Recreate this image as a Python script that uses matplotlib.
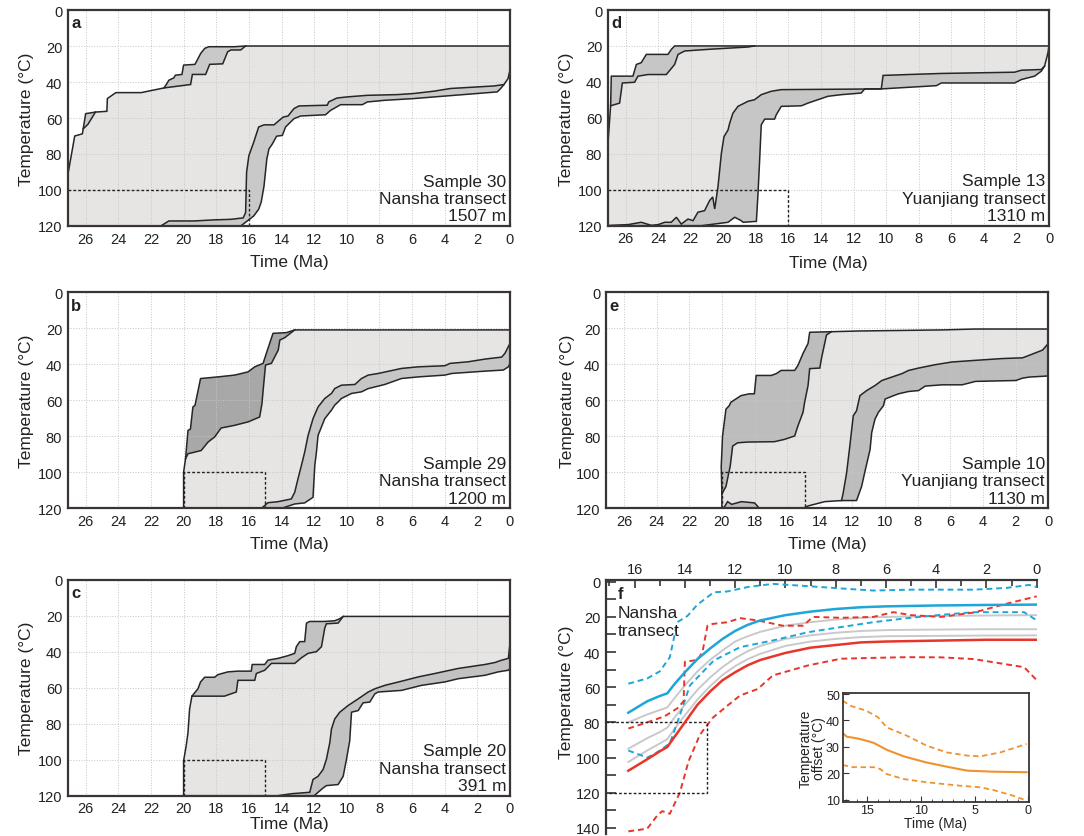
import matplotlib
matplotlib.use("Agg")
import matplotlib.pyplot as plt
from matplotlib.patches import Polygon
from matplotlib.ticker import MultipleLocator

plt.rcParams['font.family'] = ['Liberation Sans', 'DejaVu Sans']

# ---------------- data: thermal-history envelopes (time Ma, temperature C) ----------------
a_upper = [(27.1,120),(27.1,92),(26.67,70),(26.2,68.8),(26.15,66),(26.0,57.6),(25.4,56.7),(24.7,56.3),
           (24.67,49.2),(24.15,45.9),(22.6,45.9),(21.2,43.3),(21.06,41.4),(20.9,39),(20.6,37.7),(20.5,36.2),
           (20.1,35.8),(20.0,30.6),(19.3,30.2),(18.95,24.1),(18.7,21.3),(18.45,20.4),(16.9,20.4),(16.2,20),(0,20)]
a_band1 = [(26.15,66),(25.86,63.5),(25.4,56.7)]
a_band2 = [(21.2,43.3),(19.57,41.4),(19.46,35.8),(18.65,35.8),(18.4,30.2),(17.6,29.9),(17.3,23.2),(17.1,22.2),
           (16.5,22.2),(16.2,20)]
a_lower = [(27.1,120),(21.4,120),(16.5,120),(15.7,114.4),(15.4,110.7),(15.24,106.6),(15.07,97.7),(14.9,82.8),
           (14.77,77.2),(14.56,74.4),(14.3,70.1),(13.95,69.7),(13.75,65),(13.24,60.4),(12.83,58.9),(11.3,58.2),
           (11.0,55.8),(10.38,52.6),(9.05,52.6),(8.74,51.1),(7.72,50.2),(5.88,49.2),(4.66,48.3),(0.78,45.5),
           (0.57,43.6),(0.37,41.4),(0.12,38.1),(0,33.4),(0,20)]
a_band3 = [(21.4,120),(20.9,117.2),(19.36,117.2),(18.14,116.6),(17.1,116.3),(16.35,115.5),(16.2,112.6),
           (16.14,90.2),(16.0,80.9),(15.7,73.4),(15.4,65),(15.07,63.8),(14.46,63.8),(13.9,59.5),(13.6,58.9),
           (13.24,54.8),(12.93,53.3),(11.2,52.9),(11.1,51),(10.6,48.9),(10.0,48.3),(8.74,47.4),(6.9,47),
           (5.9,46.4),(4.66,45.1),(3.64,43.6),(0.98,42.2),(0.37,41.4)]
a_box = [(27.1,100),(16,100),(16,120)]
a_label = "Sample 30\nNansha transect\n1507 m"

b_upper = [(20,120),(20,100),(19.88,92.5),(19.73,76.7),(19.58,76),(19.43,63.7),(19.3,62.8),(18.96,47.9),
           (17.9,47),(16.87,46),(16.05,44.2),(15.64,41.4),(15.13,39.5),(14.83,31.2),(14.52,22.8),(13.7,22.4),
           (13.19,20.9),(0,20.9)]
b_band1 = [(19.88,92.5),(19.73,89.7),(18.92,87.9),(18.5,83.2),(18.1,80.4),(17.7,75.4),(16.87,73.9),(16.05,72),
           (15.34,69.3),(15.2,62),(15.1,52),(14.98,40.4),(14.62,39.5),(14.2,32.1),(14.1,26.5),(13.8,25.2),
           (13.19,20.9)]
b_lower = [(20,120),(15.23,120),(14.0,120),(13.19,117.6),(12.58,117),(12.07,113.9),(11.96,96.2),(11.86,88.8),
           (11.76,79.5),(11.35,70.2),(10.94,65.5),(10.74,62.7),(10.53,60.9),(10.33,59),(9.71,56.2),(9.1,55.3),
           (8.69,53.5),(7.67,51.2),(6.65,47.9),(5.62,47),(3.99,46),(3.58,45.1),(1.53,43.8),(0.41,43.2),
           (0.1,41.4),(0,39.5),(0,28.4),(0,20.9)]
b_band2 = [(15.23,120),(14.83,116.9),(14.2,116.3),(13.4,114.8),(13.19,111.1),(12.99,103.6),(12.78,96.2),
           (12.58,88.8),(12.37,79.5),(12.07,70.2),(11.76,63.7),(11.35,59),(10.94,56.2),(10.74,53.5),(10.33,51.6),
           (9.5,51.2),(9.1,47.9),(8.69,46),(8.08,45.1),(6.65,42.3),(5.62,41.4),(3.99,40.8),(3.68,39.5),
           (2.56,38.6),(1.53,37.1),(0.51,36),(0.31,33.9),(0,28.4)]
b_box = [(20,120),(20,100),(15,100),(15,120)]
b_label = "Sample 29\nNansha transect\n1200 m"

c_upper = [(20,120),(20,100.7),(19.84,92.3),(19.73,84.9),(19.63,71.8),(19.49,64.7),(19.12,60.6),(18.96,56.8),
           (18.71,54.2),(18.1,54.2),(17.89,52.7),(17.28,51.2),(16.67,50.8),(15.85,50.8),(15.8,47.1),(15.03,47.1),
           (14.83,44.7),(14.21,43.7),(13.6,42.2),(13.19,40.9),(13.09,37.2),(12.88,34.4),(12.58,34.4),(12.47,24.1),
           (12.27,23.2),(11.35,23.2),(10.74,22.8),(10.43,21.7),(10.22,20.4),(0,20.4)]
c_band1 = [(19.49,64.7),(17.5,64.7),(16.77,62.4),(16.67,55.9),(15.64,55.9),(15.54,52.1),(15.03,50.3),
           (14.62,46.5),(13.19,46.5),(12.78,43.4),(12.37,40.9),(11.86,40),(11.55,37.2),(11.35,26.9),
           (11.25,24.5),(10.53,24.1),(10.22,20.4)]
c_lower = [(20,120),(14.21,120),(12.0,120),(11.45,115.7),(11.25,114.4),(10.53,113.8),(10.22,109.2),(10.02,99.8),
           (9.82,89.5),(9.71,73.6),(9.3,72.7),(9.0,68.4),(8.59,68),(8.28,63.4),(8.08,62.4),(6.65,61.5),
           (5.42,58.7),(3.99,56.8),(3.17,55),(1.53,53.1),(0.72,51.2),(0.1,50.3),(0,49.3),(0,35.3),(0,20.4)]
c_band2 = [(14.21,120),(13.39,118.9),(12.27,118.1),(12.07,111),(11.76,109.2),(11.45,105.4),(11.25,99.8),
           (11.04,90.5),(10.94,83),(10.74,77.4),(10.43,73.6),(9.92,69.9),(9.3,66.2),(8.69,62.4),(8.28,60.6),
           (7.67,58.7),(6.65,56.4),(5.62,54),(4.6,52.1),(3.17,49.3),(1.53,47.1),(0.92,46),(0.51,44.7),
           (0.1,43.7),(0,35.3)]
c_box = [(20,120),(20,100),(15,100),(15,120)]
c_label = "Sample 20\nNansha transect\n391 m"

d_upper = [(27.1,120),(27.1,76),(26.92,53.3),(26.88,36.8),(25.55,36.8),(25.34,30.3),(25.04,29.3),(24.73,24.7),
           (23.4,24.7),(23.19,21.9),(22.99,20),(18.08,20),(0,20)]
d_band1 = [(26.92,53.3),(26.37,51.8),(26.2,40.6),(25.45,40.2),(25.24,36.8),(24.63,35.9),(23.5,35.9),
           (22.99,30.3),(22.78,24.7),(22.37,22.8),(20.94,21.9),(18.49,20.6),(18.08,20)]
d_lower = [(27.1,120),(21.35,120),(19.71,118.1),(19.3,115.3),(18.9,117.2),(18.79,118.1),(17.97,117.6),
           (17.87,102.2),(17.77,83.6),(17.67,63.9),(17.46,60.7),(16.85,60.7),(16.75,58.3),(16.44,53.6),
           (15.21,53.3),(14.8,51.8),(14.19,49.9),(13.57,48),(12.75,47.1),(11.53,46.2),(11.32,43.9),(10.3,43.9),
           (6.92,42.1),(6.61,40.6),(2.11,40.6),(1.7,38.7),(0.88,36.8),(0.47,34),(0.27,31.2),(0.06,23.7),(0,20)]
d_band2 = [(27.1,120),(26.88,119.8),(25.85,119.4),(25.04,118.1),(24.42,119.8),(24.0,119.4),(23.6,118.1),
           (23.2,118.1),(22.88,115.3),(22.58,119.1),(22.17,116.3),(21.86,117.2),(21.56,112.5),(21.15,111.6),
           (20.84,106),(20.65,104),(20.53,110.7),(20.33,98.5),(20.12,79.8),(19.96,70.5),(19.71,66.7),
           (19.61,63),(19.41,57.4),(19.1,53.6),(18.49,50.8),(18.08,49.9),(17.67,47.1),(17.05,45.2),
           (16.44,44.3),(10.3,43.9),(10.19,36.4),(8.66,35.9),(6.61,35.3),(2.11,34.6),(1.7,33.5),(0.47,33.1),
           (0.27,31.2)]
d_box = [(27.1,100),(16,100),(16,120)]
d_label = "Sample 13\nYuanjiang transect\n1310 m"

e_upper = [(20,120),(20,112),(20.04,96.8),(19.96,79.8),(19.75,64.9),(19.55,63),(19.45,61.1),(18.83,57.4),
           (18.32,56.4),(18.01,56.4),(17.9,46.2),(16.98,46.2),(16.67,45.2),(16.37,43.4),(15.54,43.4),
           (15.34,40.6),(15.03,34),(14.72,28.4),(14.62,22.2),(13.29,21.9),(11.64,21.5),(6.51,20.9),(4.46,20.4),
           (0,20.4)]
e_band1 = [(20,112),(19.75,107.9),(19.49,96.6),(19.34,85.4),(19.03,83.6),(18.42,83.2),(16.78,83),(16.16,81.7),
           (15.54,79.8),(15.34,74.2),(15.03,66.7),(14.93,61.1),(14.72,51.8),(14.62,42.4),(14.0,42.1),
           (13.9,36.8),(13.59,23.7),(13.29,21.9)]
e_lower = [(20,120),(19.9,120),(17.7,120),(15.03,120),(14.72,118.7),(13.7,116.3),(12.67,115.7),(11.75,115.7),
           (11.44,107.9),(11.23,99.4),(10.92,87.3),(10.82,77.9),(10.62,70.5),(10.41,66.7),(10.1,63),(10.0,59.3),
           (9.59,57.8),(9.18,56.4),(8.56,55.1),(7.95,54.6),(7.54,52.1),(6.51,51.4),(5.28,51.4),(4.46,49.5),
           (1.99,49),(1.58,47.7),(1.17,47.1),(0.04,46.5),(0,40.6),(0,28.4),(0,20.4)]
e_band0 = [(19.9,120),(19.65,116.3),(19.4,117.8),(18.8,116.3),(18.0,117),(17.7,120)]
e_band2 = [(12.67,115.7),(12.57,111.6),(12.36,100.4),(12.16,85.4),(11.95,68.6),(11.75,65.8),(11.54,57.4),
           (11.13,54.6),(10.62,51.8),(10.2,49),(9.59,47.1),(8.97,45.2),(8.56,43.4),(7.95,42.1),(6.92,40.2),
           (5.89,38.7),(4.46,37.8),(2.81,36.8),(1.58,36.4),(1.17,35),(0.35,32.1),(0,28.4)]
e_box = [(20,120),(20,100),(14.9,100),(14.9,120)]
e_label = "Sample 10\nYuanjiang transect\n1130 m"

xticks_hist = [26, 24, 22, 20, 18, 16, 14, 12, 10, 8, 6, 4, 2, 0]
yticks_hist = [0, 20, 40, 60, 80, 100, 120]

# ---------------- data: panel f (Nansha transect) ----------------
f_t = [16.25, 15.5, 15.0, 14.7, 14.4, 14.0, 13.5, 13.0, 12.5, 12.0, 11.5, 11.0, 10.0, 9.0, 8.0, 7.0, 6.0, 4.0, 2.0, 0.0]
f_blue = [74.5, 68, 65, 63.5, 58, 51.5, 44, 38, 32.5, 28, 24.5, 22, 19, 17, 15.5, 14.5, 14, 13.5, 13.2, 13]
f_grey1 = [80, 75.5, 73, 71.5, 66, 59, 51, 44.5, 39, 34, 31, 28.5, 25, 23, 21.5, 20.5, 20, 19.5, 19.2, 19]
f_grey2 = [95, 89, 85.5, 83, 77, 70, 61.5, 54.5, 48.5, 43.5, 39.5, 36.5, 32.5, 30.5, 29, 28, 27.5, 27.2, 27, 27]
f_grey3 = [102.5, 96, 92, 89.5, 83.5, 76, 67, 59.5, 53, 48, 44, 41, 36.5, 34, 32.5, 31.5, 31, 30.8, 30.6, 30.5]
f_red = [107.5, 101, 96.5, 94, 88, 80, 70, 62.5, 56, 51.5, 47.5, 44.5, 40.5, 37.5, 36, 34.5, 34, 33.5, 33, 33]

f_bdu_t = [16.25, 15.5, 15.0, 14.6, 14.3, 13.9, 13.5, 12.85, 12.3, 11.5, 10.5, 9.1, 7.8, 6.5, 5.0, 3.8, 2.5, 1.2, 0.3, 0.0]
f_bdu = [58, 55, 51, 43, 23, 19.5, 13, 6, 5.5, 3, 1.2, 2.5, 3.8, 5, 4.5, 4.5, 4.5, 3.5, 1.8, 3]
f_bdl_t = [16.25, 15.5, 15.2, 14.6, 14.2, 13.8, 12.85, 11.8, 10.5, 9.1, 7.8, 6.5, 5.15, 3.8, 2.5, 0.5, 0.0]
f_bdl = [96, 100, 98, 92, 76, 59, 44.8, 37.2, 33.4, 28.7, 25.8, 23, 20.7, 18.8, 17.3, 17.3, 22]
f_rdu_t = [16.25, 15.5, 14.8, 14.3, 14.05, 14.0, 13.5, 13.3, 13.1, 12.9, 12.3, 11.8, 11.1, 10.1, 9.3, 8.9,
           7.8, 6.5, 5.7, 5.0, 3.8, 2.5, 1.2, 0.0]
f_rdu = [83.5, 80, 76.5, 72, 68, 45.5, 44.5, 40, 25, 24, 23, 20.7, 22, 25, 25, 20, 20.5, 20, 17.3, 19, 20, 17.5, 12.5, 8.3]
f_rdl_t = [16.25, 15.5, 15.1, 14.9, 14.6, 14.4, 14.2, 13.85, 13.4, 12.9, 12.3, 11.8, 11.1, 10.5, 9.1, 7.8,
           6.5, 5.15, 3.8, 2.5, 0.5, 0.0]
f_rdl = [142, 140.5, 133, 130.5, 132, 126, 120, 102, 87, 77.5, 70.4, 64.7, 61, 53.3, 47.6, 43.8, 43.3, 42.9,
         43, 44, 48.6, 56]
f_box = [(17.15, 80), (13.1, 80), (13.1, 120), (17.15, 120)]
f_xticks = [16, 14, 12, 10, 8, 6, 4, 2, 0]
f_yticks = [0, 20, 40, 60, 80, 100, 120, 140]

# inset: temperature offset
ins_mid_t = [17.3, 16.9, 16.5, 15.7, 14.8, 14.4, 13.2, 11.6, 9.5, 7.6, 5.7, 3.3, 0.15]
ins_mid = [35.2, 33.8, 33.6, 33.0, 32.0, 31.5, 28.9, 26.4, 24.1, 22.5, 21.0, 20.6, 20.4]
ins_up_t = [17.3, 16.6, 15.1, 14.0, 13.2, 11.3, 9.5, 7.6, 5.7, 4.5, 2.6, 0.15]
ins_up = [47.5, 45.6, 43.7, 41.2, 37.4, 34.2, 30.5, 27.9, 26.7, 26.4, 27.9, 31.1]
ins_low_t = [17.3, 16.3, 14.4, 13.8, 13.2, 11.6, 9.5, 6.4, 4.5, 3.3, 1.4, 0.15]
ins_low = [23.1, 22.3, 22.3, 21.6, 19.7, 17.8, 16.6, 15.3, 14.7, 13.7, 11.5, 9.6]
ins_xticks = [15, 10, 5, 0]
ins_yticks = [10, 20, 30, 40, 50]

# ---------------- styles ----------------
LIGHT = '#e6e5e3'
LINE = '#262626'
SPINE = '#3a3434'
W, H = 1084, 837

fig = plt.figure(figsize=(W / 100, H / 100), dpi=100)


def add_ax(l, t, r, b, **kw):
    return fig.add_axes([l / W, 1 - b / H, (r - l) / W, (b - t) / H], **kw)


def xy(points):
    return [p[0] for p in points], [p[1] for p in points]


panels = [
    dict(rect=(67.7, 11, 510, 227), upper=a_upper, lower=a_lower, bands=[a_band1, a_band2, a_band3],
         colors=['#c9c9c9', '#c9c9c9', '#c9c9c9'], box=a_box, letter='a', label=a_label,
         xl=-0.13, yl=-0.077),
    dict(rect=(67.7, 293.3, 510, 509.3), upper=b_upper, lower=b_lower, bands=[b_band1, b_band2],
         colors=['#a8a8a8', '#c6c6c6'], box=b_box, letter='b', label=b_label, xl=-0.128, yl=-0.077),
    dict(rect=(67.7, 580.7, 510, 796.7), upper=c_upper, lower=c_lower, bands=[c_band1, c_band2],
         colors=['#c2c2c2', '#c2c2c2'], box=c_box, letter='c', label=c_label, xl=-0.094, yl=-0.077),
    dict(rect=(607.7, 11, 1049, 226.7), upper=d_upper, lower=d_lower, bands=[d_band1, d_band2],
         colors=['#c6c6c6', '#c6c6c6'], box=d_box, letter='d', label=d_label, xl=-0.136, yl=-0.077),
    dict(rect=(606, 293.3, 1048.3, 509.3), upper=e_upper, lower=e_lower, bands=[e_band0, e_band1, e_band2],
         colors=['#bdbdbd', '#bdbdbd', '#bdbdbd'], box=e_box, letter='e', label=e_label, xl=-0.128, yl=-0.069),
]

for p in panels:
    ax = add_ax(*p['rect'])
    ax.set_xlim(27.1, 0)
    ax.set_ylim(120, 0)
    upper, lower = p['upper'], p['lower']
    ax.add_patch(Polygon(upper + lower[::-1], closed=True, fc=LIGHT, ec='none', zorder=1))
    for inner, col in zip(p['bands'], p['colors']):
        host = upper if (inner[0] in upper and inner[-1] in upper) else lower
        i0, i1 = host.index(inner[0]), host.index(inner[-1])
        ax.add_patch(Polygon(host[i0:i1 + 1] + inner[::-1], closed=True, fc=col, ec='none', zorder=1.5))
        ax.plot(*xy(inner), color=LINE, lw=1.1, zorder=3, solid_joinstyle='miter')
    ax.plot(*xy(upper), color=LINE, lw=1.1, zorder=3)
    ax.plot(*xy(lower), color=LINE, lw=1.1, zorder=3)
    ax.plot(*xy(p['box']), color='#222222', lw=1.0, ls=(0, (2, 1.5)), zorder=3.5)
    ax.set_xticks(xticks_hist)
    ax.set_yticks(yticks_hist)
    ax.set_axisbelow(False)
    ax.grid(True, color='#c6c6c6', ls=':', lw=0.7)
    ax.tick_params(length=0, pad=4, labelsize=10.5, labelcolor='#222222')
    for s in ax.spines.values():
        s.set_color(SPINE)
        s.set_linewidth(1.6)
        s.set_zorder(4)
    ax.set_xlabel('Time (Ma)', fontsize=12.5, color='#222222')
    ax.set_ylabel('Temperature (°C)', fontsize=12.5, color='#222222')
    ax.xaxis.set_label_coords(0.5, p['xl'])
    ax.yaxis.set_label_coords(p['yl'], 0.5)
    ax.text(0.008, 0.975, p['letter'], transform=ax.transAxes, ha='left', va='top',
            fontsize=12, fontweight='bold', color='#222222', zorder=5)
    ax.text(0.992, 0.012, p['label'], transform=ax.transAxes, ha='right', va='bottom',
            fontsize=12.5, linespacing=1.2, color='#222222', zorder=5)

# ---------------- panel f ----------------
axf = add_ax(605.7, 581, 1036.7, 835)
axf.set_xlim(17.15, 0)
axf.set_ylim(143.5, -1)
axf.patch.set_alpha(0)
for s in ['right', 'bottom']:
    axf.spines[s].set_visible(False)
for s in ['top', 'left']:
    axf.spines[s].set_color(SPINE)
    axf.spines[s].set_linewidth(1.6)
axf.xaxis.tick_top()
axf.set_xticks(f_xticks)
axf.xaxis.set_minor_locator(MultipleLocator(1))
axf.set_yticks(f_yticks)
axf.yaxis.set_minor_locator(MultipleLocator(10))
axf.tick_params(which='both', direction='in', labelsize=10.5, labelcolor='#222222', color=SPINE, width=1.2)
axf.tick_params(axis='y', which='both', length=7, pad=4)
axf.tick_params(axis='x', which='major', length=6, pad=3)
axf.tick_params(axis='x', which='minor', length=4)

BLUE, RED, GREY = '#1ea6d8', '#e8352b', '#c9c9cc'
dash = (0, (3, 2))
axf.plot(f_t, f_grey1, color=GREY, lw=1.4, zorder=2)
axf.plot(f_t, f_grey2, color=GREY, lw=1.4, zorder=2)
axf.plot(f_t, f_grey3, color=GREY, lw=1.4, zorder=2)
axf.plot(f_bdu_t, f_bdu, color=BLUE, lw=1.4, ls=dash, zorder=3)
axf.plot(f_bdl_t, f_bdl, color=BLUE, lw=1.4, ls=dash, zorder=3)
axf.plot(f_rdu_t, f_rdu, color=RED, lw=1.4, ls=dash, zorder=3)
axf.plot(f_rdl_t, f_rdl, color=RED, lw=1.4, ls=dash, zorder=3)
axf.plot(f_t, f_blue, color=BLUE, lw=1.8, zorder=4)
axf.plot(f_t, f_red, color=RED, lw=1.8, zorder=4)
axf.plot(*xy(f_box), color='#222222', lw=1.0, ls=(0, (2, 1.5)), zorder=3.5)
axf.set_ylabel('Temperature (°C)', fontsize=12.5, color='#222222')
axf.yaxis.set_label_coords(-0.073, 0.56)
axf.text(0.028, 0.975, 'f', transform=axf.transAxes, ha='left', va='top', fontsize=12,
         fontweight='bold', color='#222222')
axf.text(0.028, 0.9, 'Nansha\ntransect', transform=axf.transAxes, ha='left', va='top',
         fontsize=12.5, linespacing=1.25, color='#222222')

# ---------------- inset ----------------
axi = add_ax(842.7, 694.3, 1029.3, 803.3)
axi.set_zorder(5)
axi.set_xlim(17.3, -0.1)
axi.set_ylim(9, 50.3)
ORANGE = '#f0922e'
axi.plot(ins_mid_t, ins_mid, color=ORANGE, lw=1.5)
axi.plot(ins_up_t, ins_up, color=ORANGE, lw=1.3, ls=dash)
axi.plot(ins_low_t, ins_low, color=ORANGE, lw=1.3, ls=dash)
axi.set_xticks(ins_xticks)
axi.xaxis.set_minor_locator(MultipleLocator(1))
axi.set_yticks(ins_yticks)
axi.tick_params(which='both', direction='in', labelsize=9, labelcolor='#222222', pad=2, color=SPINE)
axi.tick_params(axis='x', which='both', pad=1)
axi.tick_params(which='major', length=4)
axi.tick_params(which='minor', length=2.5)
for s in axi.spines.values():
    s.set_color(SPINE)
    s.set_linewidth(1.3)
axi.set_xlabel('Time (Ma)', fontsize=10, color='#222222')
axi.xaxis.set_label_coords(0.5, -0.125)
axi.set_ylabel('Temperature\noffset (°C)', fontsize=10, linespacing=0.95, color='#222222')
axi.yaxis.set_label_coords(-0.09, 0.5)

fig.savefig('out.png', dpi=100)
